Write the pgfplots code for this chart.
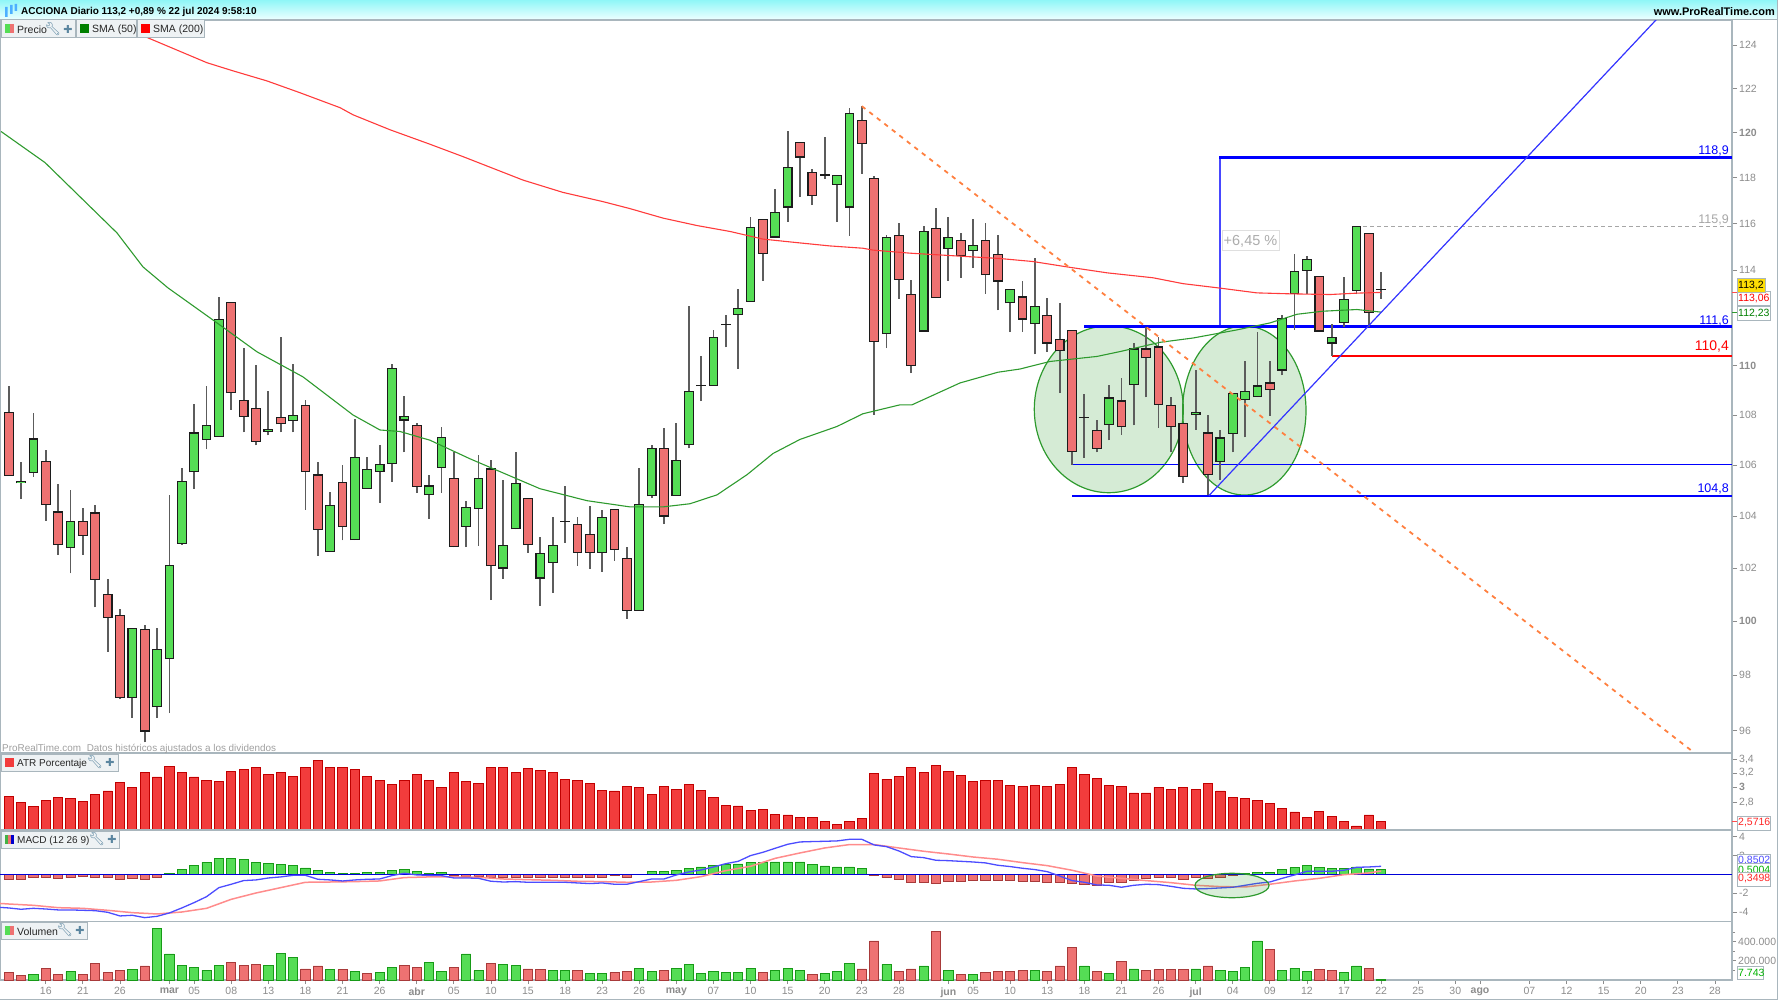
\documentclass[border=0pt]{standalone}
\usepackage{fontspec}
\setmainfont{Liberation Sans}
\newfontfamily\emojifont{Noto Emoji}
\newfontfamily\symfont{DejaVu Sans}
\usepackage{pgfplots}
\usepackage{pgfplotstable}
\pgfplotsset{compat=1.18}

\definecolor{framec}{HTML}{A9B6BD}
\definecolor{tickc}{HTML}{8C8C8C}
\definecolor{wickc}{HTML}{5C5C5C}
\definecolor{edgec}{HTML}{1C1C1C}
\definecolor{upc}{HTML}{55DD55}
\definecolor{downc}{HTML}{EE7272}
\definecolor{upedge}{HTML}{179A17}
\definecolor{downedge}{HTML}{A83A3A}
\definecolor{atrc}{HTML}{F23C3C}
\definecolor{atredge}{HTML}{C00000}
\definecolor{sma50}{HTML}{2E9A2E}
\definecolor{sma200}{HTML}{FF3B3B}
\definecolor{drawblue}{HTML}{0000FF}
\definecolor{orangec}{HTML}{FF8040}
\definecolor{pillc}{HTML}{EEF2F4}
\definecolor{iconc}{HTML}{5B86A0}

% candles: bar index, high, body top, body bottom, low
\pgfplotstableread{
i h t b l
1 106.12 105.36 105.28 104.66
2 108.07 107.06 105.69 105.53
5 105.03 103.82 102.76 101.80
10 99.76 99.74 97.17 96.45
12 99.75 98.98 96.83 96.45
13 104.81 102.11 98.59 96.62
14 105.87 105.38 102.93 102.90
15 108.45 107.30 105.71 105.06
16 109.17 107.59 107.00 106.62
17 112.86 111.95 107.12 107.12
21 108.99 107.43 107.33 107.18
23 110.08 107.99 107.74 107.30
26 104.93 104.45 102.61 102.61
28 107.83 106.33 103.07 103.07
29 106.31 105.85 105.06 105.06
30 106.80 106.04 105.72 104.51
31 110.08 109.92 106.04 105.34
32 108.76 107.96 107.78 106.50
34 105.62 105.20 104.81 103.89
35 107.53 107.12 105.89 104.90
37 104.60 104.37 103.58 102.80
38 106.39 105.50 104.28 102.86
40 105.42 102.88 101.98 101.59
41 106.51 105.30 103.48 103.48
43 103.20 102.58 101.60 100.57
44 103.98 102.88 102.20 101.06
48 104.22 103.97 102.58 101.86
51 105.87 104.47 100.38 100.38
52 106.81 106.67 104.77 104.70
54 107.69 106.20 104.79 104.79
55 112.49 108.99 106.79 106.67
57 111.49 111.21 109.19 109.19
59 113.20 112.40 112.11 109.89
60 116.30 115.87 112.67 112.67
62 117.52 116.49 115.40 115.40
63 120.10 118.47 116.70 116.08
67 118.11 118.11 117.70 116.08
68 121.12 120.88 116.70 115.48
71 115.52 115.42 111.31 110.73
74 115.90 115.69 111.42 111.42
76 116.30 115.42 114.90 113.56
78 116.21 115.09 114.80 114.09
81 113.20 113.20 112.60 111.40
83 114.51 112.50 111.73 110.48
89 109.23 108.71 107.59 106.98
91 110.94 110.72 109.21 107.58
96 109.82 108.11 107.99 107.40
98 107.41 107.10 106.12 105.42
99 108.91 108.91 107.24 106.50
100 110.21 108.99 108.60 107.10
101 111.42 109.20 108.73 108.73
103 112.10 111.99 109.81 109.61
104 114.71 113.98 113.01 111.49
105 114.61 114.50 113.98 113.00
107 111.73 111.21 110.92 110.42
108 113.72 112.80 111.79 111.63
109 115.89 115.89 113.11 112.98
}\upcandles

\pgfplotstableread{
i h t b l
0 109.16 108.11 105.58 105.58
3 106.60 106.15 104.44 103.83
4 105.25 104.18 102.88 102.50
6 104.30 103.82 103.23 102.50
7 104.44 104.14 101.55 100.51
8 101.59 101.02 100.12 98.87
9 100.47 100.22 97.17 97.13
11 99.86 99.70 95.96 95.57
18 112.65 112.65 108.89 108.21
19 110.73 108.60 107.92 107.30
20 110.04 108.30 106.93 106.78
22 111.19 107.92 107.63 107.30
24 108.60 108.40 105.72 104.25
25 106.12 105.63 103.47 102.47
27 106.01 105.34 103.57 103.06
33 107.70 107.59 105.14 104.90
36 106.51 105.50 102.81 102.79
39 106.22 105.87 102.07 100.79
42 104.70 104.70 102.88 102.58
46 103.98 103.69 102.58 102.08
47 104.38 103.30 102.58 101.97
49 104.27 104.27 102.70 102.28
50 102.80 102.38 100.38 100.09
53 107.49 106.67 103.98 103.69
61 116.19 116.19 114.70 113.56
64 119.60 119.60 118.90 117.16
65 118.41 118.27 117.19 116.80
66 119.82 118.19 118.10 117.96
69 121.20 120.57 119.52 118.19
70 118.10 117.99 110.99 108.00
72 116.02 115.49 113.59 112.80
73 113.59 113.00 110.00 109.70
75 116.69 115.82 112.82 112.82
77 115.61 115.29 114.60 113.69
79 116.02 115.29 113.79 113.00
80 115.50 114.70 113.52 112.30
82 113.54 112.89 111.92 111.41
84 112.82 112.10 110.92 110.59
85 112.63 111.11 110.61 108.89
86 111.49 111.49 106.52 106.01
88 107.80 107.40 106.64 106.50
90 109.52 108.59 107.51 107.21
92 111.63 110.72 110.31 108.71
93 111.21 110.80 108.41 107.49
94 108.71 108.39 107.51 106.50
95 107.70 107.70 105.53 105.30
97 108.00 107.30 105.61 104.83
102 110.21 109.32 109.01 107.98
106 113.77 113.77 111.42 111.42
110 115.60 115.60 112.19 111.63
}\downcandles

\pgfplotstableread{
i h t b l
45 105.19 103.83 103.79 102.97
56 110.41 109.21 109.17 108.56
58 112.09 111.73 111.69 110.76
87 108.86 107.94 107.90 106.30
111 113.92 113.22 113.18 112.80
}\dojicandles

\pgfplotsset{
  panel/.style={
    scale only axis, width=1732pt,
    xmin=-0.704, xmax=139.38,
    axis line style={color=framec, line width=1.5pt},
    ytick pos=right, yticklabel pos=right,
    xtick pos=bottom,
    tick align=outside, major tick length=5pt, minor tick length=3pt,
    tick style={color=tickc, line width=0.8pt},
    yticklabel style={font=\fontsize{10.5}{12}\selectfont, text=tickc, anchor=west, inner sep=0pt, xshift=2pt},
    xticklabel style={font=\fontsize{10.5}{12}\selectfont, text=tickc},
  },
  volbar/.style={ybar, bar width=9.2pt, bar shift=0pt},
  nobase/.style={draw=none, mark=none, forget plot},
}

\newcommand{\wicks}[1]{%
  \addplot[nobase, error bars/.cd, y dir=plus, y explicit, error mark=none,
    error bar style={draw=wickc, line width=1.8pt}]
    table[x=i, y=l, y error plus expr=\thisrow{h}-\thisrow{l}] {#1};
}
\newcommand{\candles}[2]{%
  \wicks{#1}
  \addplot[nobase, error bars/.cd, y dir=plus, y explicit, error mark=none,
    error bar style={draw=edgec, line width=9.8pt}]
    table[x=i, y=b, y error plus expr=\thisrow{t}-\thisrow{b}] {#1};
  \addplot[nobase, error bars/.cd, y dir=plus, y explicit, error mark=none,
    error bar style={draw=#2, line width=7.6pt}]
    table[x=i, y expr=\thisrow{b}+0.045, y error plus expr=\thisrow{t}-\thisrow{b}-0.09] {#1};
}
\newcommand{\pill}[4]{% x0, y0, x1, y1
  \draw[draw=framec, fill=pillc, line width=1pt] (#1,#2) rectangle (#3,#4);}
\newcommand{\tools}[2]{% x, y of the wrench
  \node[text=iconc, font=\emojifont\fontsize{13}{14}\selectfont, inner sep=0pt] at (#1,#2) {🔧};
  \node[text=iconc, font=\symfont\fontsize{11}{12}\selectfont, inner sep=0pt] at (#1+15,#2) {✚};}
\newcommand{\tag}[7]{% x0, y0, x1, y1, fill, text colour, text
  \draw[draw=framec, fill=#5, line width=1pt] (#1,#2) rectangle (#3,#4);
  \node[anchor=west, inner sep=0pt, text=#6, font=\fontsize{10.5}{12}\selectfont] at (#1+1,{(#2+#4)/2}) {#7};}

\begin{document}
\begin{tikzpicture}
\path[use as bounding box] (0pt,0pt) rectangle (1778pt,-1000pt);

% marked zones under the price candles
\begin{scope}[x=1pt,y=-1pt]
\draw[draw=sma50, line width=1.2pt, fill=sma50, fill opacity=0.2] (1108.8,409.3) ellipse [x radius=74.5, y radius=83.4];
\draw[draw=sma50, line width=1.2pt, fill=sma50, fill opacity=0.2] (1244.3,410.5) ellipse [x radius=61.7, y radius=84.5];
\end{scope}

% price panel
\begin{axis}[panel, at={(0pt,-20pt)}, anchor=north west, height=733pt,
  ymode=log, ymin=95.20, ymax=125.17,
  ytick={96,98,100,102,104,106,108,110,114,116,118,120,122,124},
  yticklabels={96,98,{\bfseries 100},102,104,106,108,{\bfseries 110},114,116,118,{\bfseries 120},122,124},
  xtick=\empty]

\addplot[drawblue, line width=1pt] coordinates {(86,106.01)(139.38,106.01)};
\addplot[drawblue, line width=2pt] coordinates {(86,104.8)(139.38,104.8)};
\addplot[drawblue, line width=2.2pt] coordinates {(87,111.63)(139.38,111.63)};
\addplot[color=red, line width=1.8pt] coordinates {(107,110.42)(139.38,110.42)};
\addplot[color=blue!72!white, line width=1.8pt] coordinates {(97.97,111.7)(97.97,118.9)};
\addplot[drawblue, line width=2.2pt] coordinates {(97.9,118.9)(139.38,118.9)};
\addplot[color=gray!70, line width=0.9pt, dash pattern=on 4pt off 3pt] coordinates {(109,115.89)(139.38,115.89)};

\candles{\upcandles}{upc}
\candles{\downcandles}{downc}
\wicks{\dojicandles}
\addplot[nobase, error bars/.cd, y dir=plus, y explicit, error mark=none,
  error bar style={draw=edgec, line width=10pt}]
  table[x=i, y=b, y error plus expr=\thisrow{t}-\thisrow{b}] {\dojicandles};

% SMA 200
\addplot[sma200, line width=1.1pt] coordinates {
(8.19,125.17)(11.27,124.33)(16.04,123.18)(18.14,122.81)(20.89,122.35)(23.56,121.81)(26.8,121.13)(27.85,120.81)
(30.84,120.14)(34.07,119.49)(36.74,118.94)(41.6,117.90)(44.83,117.36)(48.07,116.96)(50.25,116.65)(52.92,116.24)
(55.67,115.92)(58.34,115.66)(61.01,115.33)(63.76,115.18)(66.43,115.04)(69.09,114.94)(69.9,114.86)(72.9,114.73)
(76.94,114.60)(80.18,114.50)(82.85,114.37)(85.6,114.14)(88.83,113.89)(92.55,113.68)(94.98,113.43)(97.97,113.24)
(100.96,113.04)(103.63,113.00)(106.87,112.97)(109.05,113.03)(111,113.06)};
% SMA 50
\addplot[sma50, line width=1.1pt] coordinates {
(-0.62,120.06)(2.94,118.67)(6.01,117.04)(8.76,115.60)(10.86,114.14)(12.88,113.25)(16.52,111.90)(20.08,110.58)
(23.8,109.55)(26.23,108.62)(27.85,108.0)(30.03,107.40)(31.65,107.34)(34.07,106.99)(37.31,106.25)(42.97,105.07)
(46.77,104.60)(50.25,104.36)(52.92,104.36)(55.1,104.48)(57.29,104.83)(59.71,105.62)(61.82,106.46)(63.99,107.02)
(66.99,107.54)(69.09,108.05)(72.09,108.41)(73.06,108.41)(76.94,109.30)(80,109.74)(81.79,109.87)(84.2,110.18)
(88.02,110.39)(89.88,110.59)(93.12,110.97)(95.79,111.15)(99.35,111.49)(102.02,111.78)(104.2,112.14)(106.3,112.27)
(109.05,112.34)(111,112.23)};

\addplot[color=orangec, line width=1.8pt, dash pattern=on 4.5pt off 5pt] coordinates {(69,121.2)(136.1,95.28)};
\addplot[color=blue!80!white, line width=1.2pt] coordinates {(97.08,104.8)(133.24,125.17)};
\end{axis}

% ATR panel
\begin{axis}[panel, at={(0pt,-753pt)}, anchor=north west, height=77pt,
  ymode=log, log origin y=infty, ymin=2.477, ymax=3.499,
  ytick={2.8,3,3.2,3.4}, yticklabels={{2,8},{\bfseries 3},{3,2},{3,4}},
  xtick=\empty]
\addplot[volbar, fill=atrc, draw=atredge, line width=0.9pt] coordinates {
(0,2.877)(1,2.804)(2,2.750)(3,2.830)(4,2.868)(5,2.855)(6,2.821)(7,2.911)(8,2.951)(9,3.063)
(10,3.000)(11,3.208)(12,3.142)(13,3.301)(14,3.208)(15,3.142)(16,3.090)(17,3.077)(18,3.223)(19,3.247)
(20,3.276)(21,3.180)(22,3.208)(23,3.151)(24,3.286)(25,3.385)(26,3.276)(27,3.276)(28,3.247)(29,3.151)
(30,3.090)(31,3.040)(32,3.100)(33,3.180)(34,3.100)(35,3.000)(36,3.208)(37,3.077)(38,3.054)(39,3.286)
(40,3.286)(41,3.208)(42,3.261)(43,3.237)(44,3.208)(45,3.114)(46,3.090)(47,3.054)(48,2.964)(49,2.951)
(50,3.013)(51,3.000)(52,2.903)(53,3.013)(54,2.977)(55,3.040)(56,2.964)(57,2.868)(58,2.771)(59,2.759)
(60,2.705)(61,2.718)(62,2.658)(63,2.650)(64,2.618)(65,2.618)(66,2.575)(67,2.534)(68,2.575)(69,2.606)
(70,3.194)(71,3.114)(72,3.151)(73,3.286)(74,3.208)(75,3.315)(76,3.223)(77,3.165)(78,3.077)(79,3.090)
(80,3.090)(81,3.027)(82,3.013)(83,3.027)(84,3.013)(85,3.040)(86,3.286)(87,3.180)(88,3.128)(89,3.027)
(90,3.013)(91,2.925)(92,2.925)(93,3.000)(94,2.977)(95,3.000)(96,2.977)(97,3.054)(98,2.951)(99,2.868)
(100,2.855)(101,2.830)(102,2.796)(103,2.730)(104,2.686)(105,2.618)(106,2.693)(107,2.630)(108,2.575)(109,2.522)
(110,2.650)(111,2.5716)};
\end{axis}

% MACD panel
\begin{axis}[panel, at={(0pt,-830pt)}, anchor=north west, height=91.3pt,
  ymin=-5.0, ymax=4.71,
  ytick={-4,-2,2,4}, yticklabels={-4,-2,2,4},
  xtick=\empty]
\addplot[volbar, fill=upc, draw=upedge, line width=0.8pt] coordinates {
(13,.11)(14,.53)(15,.96)(16,1.28)(17,1.70)(18,1.70)(19,1.60)(20,1.28)(21,1.17)(22,1.06)(23,.96)(24,.67)(25,.43)
(26,.21)(27,.07)(28,.11)(29,.21)(30,.21)(31,.43)(32,.53)(33,.35)(34,.11)(35,.21)
(52,.32)(53,.32)(54,.43)(55,.60)(56,.78)(57,.92)(58,1.03)(59,1.10)(60,1.28)(61,1.28)(62,1.31)(63,1.31)(64,1.31)
(65,1.06)(66,.89)(67,.78)(68,.78)(69,.60)
(100,.11)(101,.18)(102,.21)(103,.53)(104,.71)(105,.92)(106,.71)(107,.60)(108,.60)(109,.78)(110,.57)(111,.53)};
\addplot[volbar, fill=downc, draw=downedge, line width=0.8pt] coordinates {
(0,-.53)(1,-.53)(2,-.35)(3,-.35)(4,-.46)(5,-.35)(6,-.21)(7,-.35)(8,-.35)(9,-.53)(10,-.46)(11,-.53)(12,-.35)
(36,-.11)(37,-.18)(38,-.18)(39,-.35)(40,-.35)(41,-.28)(42,-.28)(43,-.35)(44,-.35)(45,-.28)(46,-.28)(47,-.28)(48,-.28)(49,-.14)(50,-.28)
(70,-.14)(71,-.35)(72,-.53)(73,-.89)(74,-.82)(75,-.92)(76,-.71)(77,-.71)(78,-.60)(79,-.60)(80,-.60)(81,-.60)(82,-.71)(83,-.71)
(84,-.82)(85,-.82)(86,-.99)(87,-1.06)(88,-1.13)(89,-.89)(90,-.89)(91,-.60)(92,-.46)(93,-.35)(94,-.35)(95,-.53)(96,-.35)(97,-.43)(98,-.35)(99,-.14)};
\addplot[color=blue!85!black, line width=1pt] coordinates {(-0.704,0)(139.38,0)};
% signal
\addplot[color=red!45!white, line width=1.5pt] coordinates {
(-0.7,-3.10)(0,-3.16)(2,-3.30)(4,-3.55)(6,-3.62)(8,-3.83)(10,-4.08)(12,-4.22)(14,-4.01)(16,-3.62)(18,-2.66)(20,-1.99)(22,-1.42)
(24,-.85)(26,-.82)(28,-.78)(30,-.71)(32,-.35)(34,-.28)(36,-.28)(38,-.32)(40,-.50)(42,-.57)(44,-.64)(46,-.74)(48,-.78)
(50,-.85)(52,-.82)(54,-.64)(56,-.25)(58,.39)(60,.85)(62,1.70)(64,2.27)(66,2.80)(68,3.16)(70,3.16)(72,2.80)(74,2.45)
(76,2.16)(78,1.84)(80,1.60)(82,1.24)(84,.92)(86,.43)(88,-.18)(90,-.43)(92,-.67)(94,-.89)(96,-1.17)(98,-1.31)(100,-1.35)
(102,-1.06)(104,-.71)(106,-.43)(108,-.04)(110,.14)(111,.35)};
% MACD line
\addplot[color=blue!70!white, line width=1.3pt] coordinates {
(-0.7,-3.52)(0,-3.58)(1,-3.72)(2,-3.62)(3,-3.69)(4,-3.79)(5,-3.79)(6,-3.83)(7,-3.87)(8,-4.04)(9,-4.43)(10,-4.36)(11,-4.61)(12,-4.47)
(13,-4.11)(14,-3.58)(15,-3.01)(16,-2.38)(17,-1.42)(18,-1.06)(19,-.67)(20,-.60)(21,-.39)(22,-.28)(23,-.11)(24,-.11)(25,-.53)
(26,-.60)(27,-.71)(28,-.60)(29,-.53)(30,-.50)(31,-.14)(32,.11)(33,-.07)(34,-.11)(35,-.14)(36,-.39)(37,-.39)(38,-.43)(39,-.74)
(40,-.82)(41,-.78)(42,-.85)(43,-.85)(44,-.85)(45,-.85)(46,-.92)(47,-.99)(48,-.92)(49,-1.06)(50,-1.06)(51,-.78)(52,-.50)(53,-.50)
(54,-.07)(55,.25)(56,.46)(57,.78)(58,1.13)(59,1.38)(60,1.99)(61,2.34)(62,2.77)(63,3.19)(64,3.44)(65,3.48)(66,3.51)(67,3.55)
(68,3.72)(69,3.72)(70,3.12)(71,2.94)(72,2.48)(73,1.88)(74,1.77)(75,1.49)(76,1.45)(77,1.38)(78,1.31)(79,1.21)(80,.96)(81,.82)
(82,.64)(83,.50)(84,.28)(85,-.18)(86,-.67)(87,-.85)(88,-1.13)(89,-1.17)(90,-1.38)(91,-1.17)(92,-1.06)(93,-1.10)(94,-1.28)
(95,-1.49)(96,-1.56)(97,-1.52)(98,-1.45)(99,-1.38)(100,-1.17)(101,-.96)(102,-.82)(103,-.43)(104,-.07)(105,.32)(106,.32)
(107,.32)(108,.43)(109,.74)(110,.78)(111,.85)};
\end{axis}

% volume panel
\begin{axis}[panel, at={(0pt,-921.3pt)}, anchor=north west, height=58.7pt,
  ymin=0, ymax=612100,
  ytick={200000,400000}, yticklabels={200.000,400.000},
  minor ytick={100000,300000,500000},
  scaled y ticks=false,
  major tick length=4pt,
  xtick={3,6,9,13,15,18,21,24,27,30,33,36,39,42,45,48,51,54,57,60,63,66,69,72,76,78,81,84,87,90,93,96,99,102,105,108,111,114,117,119,123,126,129,132,135,138},
  xticklabels={16,21,26,{\bfseries mar},05,08,13,18,21,26,{\bfseries abr},05,10,15,18,23,26,{\bfseries may},07,10,15,20,23,28,{\bfseries jun},05,10,13,18,21,26,{\bfseries jul},04,09,12,17,22,25,30,{\bfseries ago},07,12,15,20,23,28}]
\addplot[volbar, fill=upc, draw=upedge, line width=0.8pt] coordinates {
(2,59100)(5,87000)(10,107800)(12,539100)(13,271300)(14,153000)(15,135600)(16,104300)(17,153000)(21,153000)(22,278200)(23,233000)
(26,107800)(28,87000)(30,76500)(31,135600)(34,184300)(35,87000)(37,271300)(38,97400)(40,163500)(41,153000)(44,97400)(45,97400)
(47,66100)(48,66100)(51,125200)(52,87000)(54,125200)(55,163500)(56,66100)(57,87000)(58,76500)(59,76500)(60,125200)(62,97400)
(63,125200)(64,97400)(66,66100)(67,87000)(68,173900)(71,163500)(74,146100)(76,97400)(78,59100)(83,97400)(87,146100)(89,66100)
(91,114800)(96,114800)(98,97400)(99,87000)(100,135600)(101,406900)(103,97400)(104,125200)(105,87000)(108,76500)(109,146100)(111,7743)};
\addplot[volbar, fill=downc, draw=downedge, line width=0.8pt] coordinates {
(0,76500)(1,48700)(3,125200)(4,59100)(6,59100)(7,173900)(8,76500)(9,97400)(11,146100)(18,184300)(19,156500)(20,163500)(24,114800)
(25,146100)(27,107800)(29,66100)(32,153000)(33,135600)(36,135600)(39,173900)(42,114800)(43,107800)(46,97400)(49,76500)(50,87000)
(53,97400)(61,76500)(65,59100)(69,114800)(70,406900)(72,87000)(73,114800)(75,504300)(77,59100)(79,76500)(80,87000)(81,87000)
(82,97400)(84,87000)(85,146100)(86,340800)(88,87000)(90,194800)(92,97400)(93,107800)(94,107800)(95,107800)(97,146100)(102,320000)
(106,107800)(107,97400)(110,125200)};
\end{axis}

% window furniture, legends and value tags
\begin{scope}[x=1pt,y=-1pt]
\draw[draw=sma50, line width=1.2pt, fill=sma50, fill opacity=0.18] (1232,885.5) ellipse [x radius=37, y radius=12.2];

\shade[top color=white!80!framec!60!cyan, bottom color=white!92!cyan] (0,0) rectangle (1778,19);
\draw[framec, line width=1.2pt] (0,19.5) -- (1778,19.5);
\draw[framec, line width=1.2pt] (1777.2,0) -- (1777.2,1000);
\draw[framec, line width=1.2pt] (0,999.2) -- (1778,999.2);
\fill[blue!45!cyan!70] (5,7) rectangle (7.5,17) (10,5) rectangle (12.5,14) (14.5,4) rectangle (17,11);
\node[anchor=west, inner sep=0pt, font=\bfseries\fontsize{10}{12}\selectfont] at (21,12) {ACCIONA Diario 113,2 +0,89 \% 22 jul 2024 9:58:10};
\node[anchor=east, inner sep=0pt, font=\bfseries\fontsize{11}{13}\selectfont] at (1775,12) {www.ProRealTime.com};

\pill{1}{20}{75}{37.5}
\fill[upc] (5,24) rectangle (9.5,33); \fill[downc] (9.5,24) rectangle (14,33);
\node[anchor=west, inner sep=0pt, text=black!85, font=\fontsize{10.5}{12}\selectfont] at (17,30) {Precio};
\tools{53}{29}
\pill{76}{20}{136}{37.5}
\fill[green!50!black] (80,24) rectangle (89,33);
\node[anchor=west, inner sep=0pt, text=black!85, font=\fontsize{10.5}{12}\selectfont] at (92,30) {SMA (50)};
\pill{137}{20}{204}{37.5}
\fill[red] (141,24) rectangle (150,33);
\node[anchor=west, inner sep=0pt, text=black!85, font=\fontsize{10.5}{12}\selectfont] at (153,30) {SMA (200)};

\node[anchor=west, inner sep=0pt, text=gray!75, font=\fontsize{9.9}{12}\selectfont] at (2,748.5) {ProRealTime.com\hspace{3pt} Datos históricos ajustados a los dividendos};

\pill{1}{754.5}{118}{771}
\fill[atrc] (5,758) rectangle (14,767);
\node[anchor=west, inner sep=0pt, text=black!85, font=\fontsize{10}{12}\selectfont] at (17,764) {ATR Porcentaje};
\tools{95}{762.5}
\pill{1}{831.5}{119}{848}
\fill[upc!80!black] (5,835) rectangle (8,844); \fill[downc] (8,835) rectangle (11,844); \fill[blue!80!black] (11,835) rectangle (14,844);
\node[anchor=west, inner sep=0pt, text=black!85, font=\fontsize{10}{12}\selectfont] at (17,841) {MACD (12 26 9)};
\tools{97}{839.5}
\pill{1}{922.5}{87}{939}
\fill[upc] (5,926) rectangle (9.5,935); \fill[downc] (9.5,926) rectangle (14,935);
\node[anchor=west, inner sep=0pt, text=black!85, font=\fontsize{10.5}{12}\selectfont] at (17,932) {Volumen};
\tools{65}{930.5}

% price level labels
\node[anchor=east, inner sep=0pt, text=blue, font=\fontsize{12.5}{14}\selectfont] at (1729,150.5) {118,9};
\node[anchor=east, inner sep=0pt, text=gray!70, font=\fontsize{12.5}{14}\selectfont] at (1729,219.5) {115,9};
\node[anchor=east, inner sep=0pt, text=blue, font=\fontsize{12.5}{14}\selectfont] at (1729,320.5) {111,6};
\node[anchor=east, inner sep=0pt, text=red, font=\fontsize{14}{16}\selectfont] at (1729,347) {110,4};
\node[anchor=east, inner sep=0pt, text=blue, font=\fontsize{12.5}{14}\selectfont] at (1729,488.5) {104,8};
\draw[draw=gray!25, fill=white, line width=1pt] (1222,230.5) rectangle (1279,251);
\node[inner sep=0pt, text=gray!65, font=\fontsize{14.5}{16}\selectfont] at (1250.5,241.5) {+6,45 \%};

% value tags on the scales
\draw[red!70, line width=1pt] (1732,292.6) -- (1737,292.6);
\draw[sma50, line width=1pt] (1732,312.3) -- (1737,312.3);
\tag{1737}{292}{1770}{306}{white}{red}{113,06}
\tag{1737}{307}{1770}{321}{white}{green!50!black}{112,23}
\tag{1737}{279}{1765}{293}{yellow!80!orange}{black}{113,2}
\draw[red!70, line width=1pt] (1732,821.7) -- (1737,821.7);
\tag{1737}{816}{1770}{830}{white}{red!85}{2,5716}
\tag{1737}{854}{1770}{868}{white}{blue!70}{0,8502}
\tag{1737}{863}{1770}{877}{white}{green!70!black}{0,5004}
\tag{1737}{872}{1770}{886}{white}{red!85}{0,3498}
\tag{1737}{966}{1763}{979.5}{white}{green!70!black}{7.743}
\end{scope}
\end{tikzpicture}
\end{document}
